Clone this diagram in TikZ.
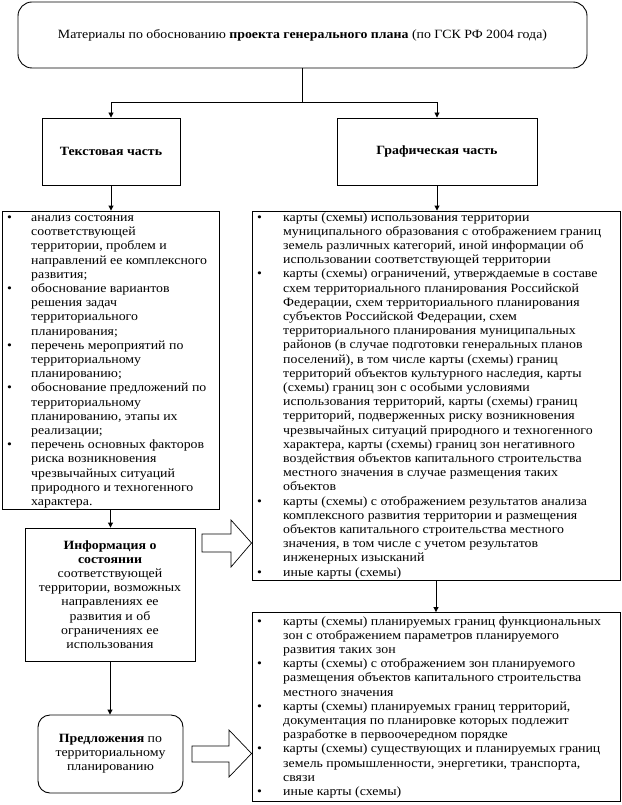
\documentclass[tikz,border=0pt]{standalone}
\usepackage{fontspec}
\setmainfont{Liberation Serif}[FakeStretch=1.1]
\usetikzlibrary{arrows.meta}
\newcommand\bi[2][24pt]{\makebox[#1][l]{•}#2}
\newcommand\ci[2][24pt]{\hspace*{#1}#2}
\begin{document}
\begin{tikzpicture}[x=1pt,y=-1pt,
  font=\fontsize{12.6}{14.2}\selectfont,
  box/.style={draw, line width=0.9pt, inner sep=0pt},
  ln/.style={line width=0.9pt},
  arr/.style={line width=0.9pt, -{Triangle[width=5pt,length=5pt]}},
  blk/.style={draw, line width=0.7pt},
  txt/.style={anchor=base west, inner sep=0pt}]
\useasboundingbox (0,0) rectangle (621,805);

% boxes
\node[box, rounded corners=14pt, minimum width=569pt, minimum height=66pt] (top) at (302.5,35)
  {Материалы по обоснованию \textbf{проекта генерального плана} (по ГСК РФ 2004 года)};
\node[box, minimum width=138pt, minimum height=67pt] (tekst) at (111,151.5) {\textbf{Текстовая часть}};
\node[box, minimum width=200pt, minimum height=67pt] (graf) at (437,151.5) {\textbf{Графическая часть}};
\node[box, minimum width=217pt, minimum height=298pt] (lbox) at (110.5,360) {};
\node[box, minimum width=368pt, minimum height=369pt] (r1box) at (436,395.5) {};
\node[box, minimum width=368pt, minimum height=189pt] (r2box) at (436,707) {};
\node[box, minimum width=170pt, minimum height=133pt, align=center] (info) at (110,594.5)
  {\textbf{Информация о}\\\textbf{состоянии}\\соответствующей\\территории, возможных\\направлениях ее\\развития и об\\ограничениях ее\\использования};
\node[box, rounded corners=12pt, minimum width=145pt, minimum height=78pt, align=center] (pred) at (110.5,754)
  {\textbf{Предложения} по\\территориальному\\планированию};

% list texts
\node[txt] (ltx) at (7,221.5) {\parbox[t]{214pt}{\raggedright
\bi{анализ состояния}\\
\ci{соответствующей}\\
\ci{территории, проблем и}\\
\ci{направлений ее комплексного}\\
\ci{развития;}\\
\bi{обоснование вариантов}\\
\ci{решения задач}\\
\ci{территориального}\\
\ci{планирования;}\\
\bi{перечень мероприятий по}\\
\ci{территориальному}\\
\ci{планированию;}\\
\bi{обоснование предложений по}\\
\ci{территориальному}\\
\ci{планированию, этапы их}\\
\ci{реализации;}\\
\bi{перечень основных факторов}\\
\ci{риска возникновения}\\
\ci{чрезвычайных ситуаций}\\
\ci{природного и техногенного}\\
\ci{характера.}}};

\node[txt] (r1tx) at (257,221) {\parbox[t]{362pt}{\raggedright
\bi[26pt]{карты (схемы) использования территории}\\
\ci[26pt]{муниципального образования с отображением границ}\\
\ci[26pt]{земель различных категорий, иной информации об}\\
\ci[26pt]{использовании соответствующей территории}\\
\bi[26pt]{карты (схемы) ограничений, утверждаемые в составе}\\
\ci[26pt]{схем территориального планирования Российской}\\
\ci[26pt]{Федерации, схем территориального планирования}\\
\ci[26pt]{субъектов Российской Федерации, схем}\\
\ci[26pt]{территориального планирования муниципальных}\\
\ci[26pt]{районов (в случае подготовки генеральных планов}\\
\ci[26pt]{поселений), в том числе карты (схемы) границ}\\
\ci[26pt]{территорий объектов культурного наследия, карты}\\
\ci[26pt]{(схемы) границ зон с особыми условиями}\\
\ci[26pt]{использования территорий, карты (схемы) границ}\\
\ci[26pt]{территорий, подверженных риску возникновения}\\
\ci[26pt]{чрезвычайных ситуаций природного и техногенного}\\
\ci[26pt]{характера, карты (схемы) границ зон негативного}\\
\ci[26pt]{воздействия объектов капитального строительства}\\
\ci[26pt]{местного значения в случае размещения таких}\\
\ci[26pt]{объектов}\\
\bi[26pt]{карты (схемы) с отображением результатов анализа}\\
\ci[26pt]{комплексного развития территории и размещения}\\
\ci[26pt]{объектов капитального строительства местного}\\
\ci[26pt]{значения, в том числе с учетом результатов}\\
\ci[26pt]{инженерных изысканий}\\
\bi[26pt]{иные карты (схемы)}}};

\node[txt] (r2tx) at (257,625) {\parbox[t]{362pt}{\raggedright
\bi[26pt]{карты (схемы) планируемых границ функциональных}\\
\ci[26pt]{зон с отображением параметров планируемого}\\
\ci[26pt]{развития таких зон}\\
\bi[26pt]{карты (схемы) с отображением зон планируемого}\\
\ci[26pt]{размещения объектов капитального строительства}\\
\ci[26pt]{местного значения}\\
\bi[26pt]{карты (схемы) планируемых границ территорий,}\\
\ci[26pt]{документация по планировке которых подлежит}\\
\ci[26pt]{разработке в первоочередном порядке}\\
\bi[26pt]{карты (схемы) существующих и планируемых границ}\\
\ci[26pt]{земель промышленности, энергетики, транспорта,}\\
\ci[26pt]{связи}\\
\bi[26pt]{иные карты (схемы)}}};

% connectors
\coordinate (j) at (302.5,102);
\draw[ln] (top.south) -- (j);
\draw[arr] (j) -| (tekst.north);
\draw[arr] (j) -| (graf.north);
\draw[arr] (tekst.south) -- (tekst.south |- lbox.north);
\draw[arr] (graf.south) -- (graf.south |- r1box.north);
\draw[arr] (lbox.south) -- (lbox.south |- info.north);
\draw[arr] (info.south) -- (info.south |- pred.north);
\draw[arr] (r1box.south) -- (r1box.south |- r2box.north);

% block arrows
\draw[blk] (202,534) -- (231,534) -- (231,520) -- (r1box.west |- 0,543) -- (231,567) -- (231,552) -- (202,552) -- cycle;
\draw[blk] (192,746) -- (229,746) -- (229,730) -- (r2box.west |- 0,753.5) -- (229,777) -- (229,762) -- (192,762) -- cycle;
\end{tikzpicture}
\end{document}
